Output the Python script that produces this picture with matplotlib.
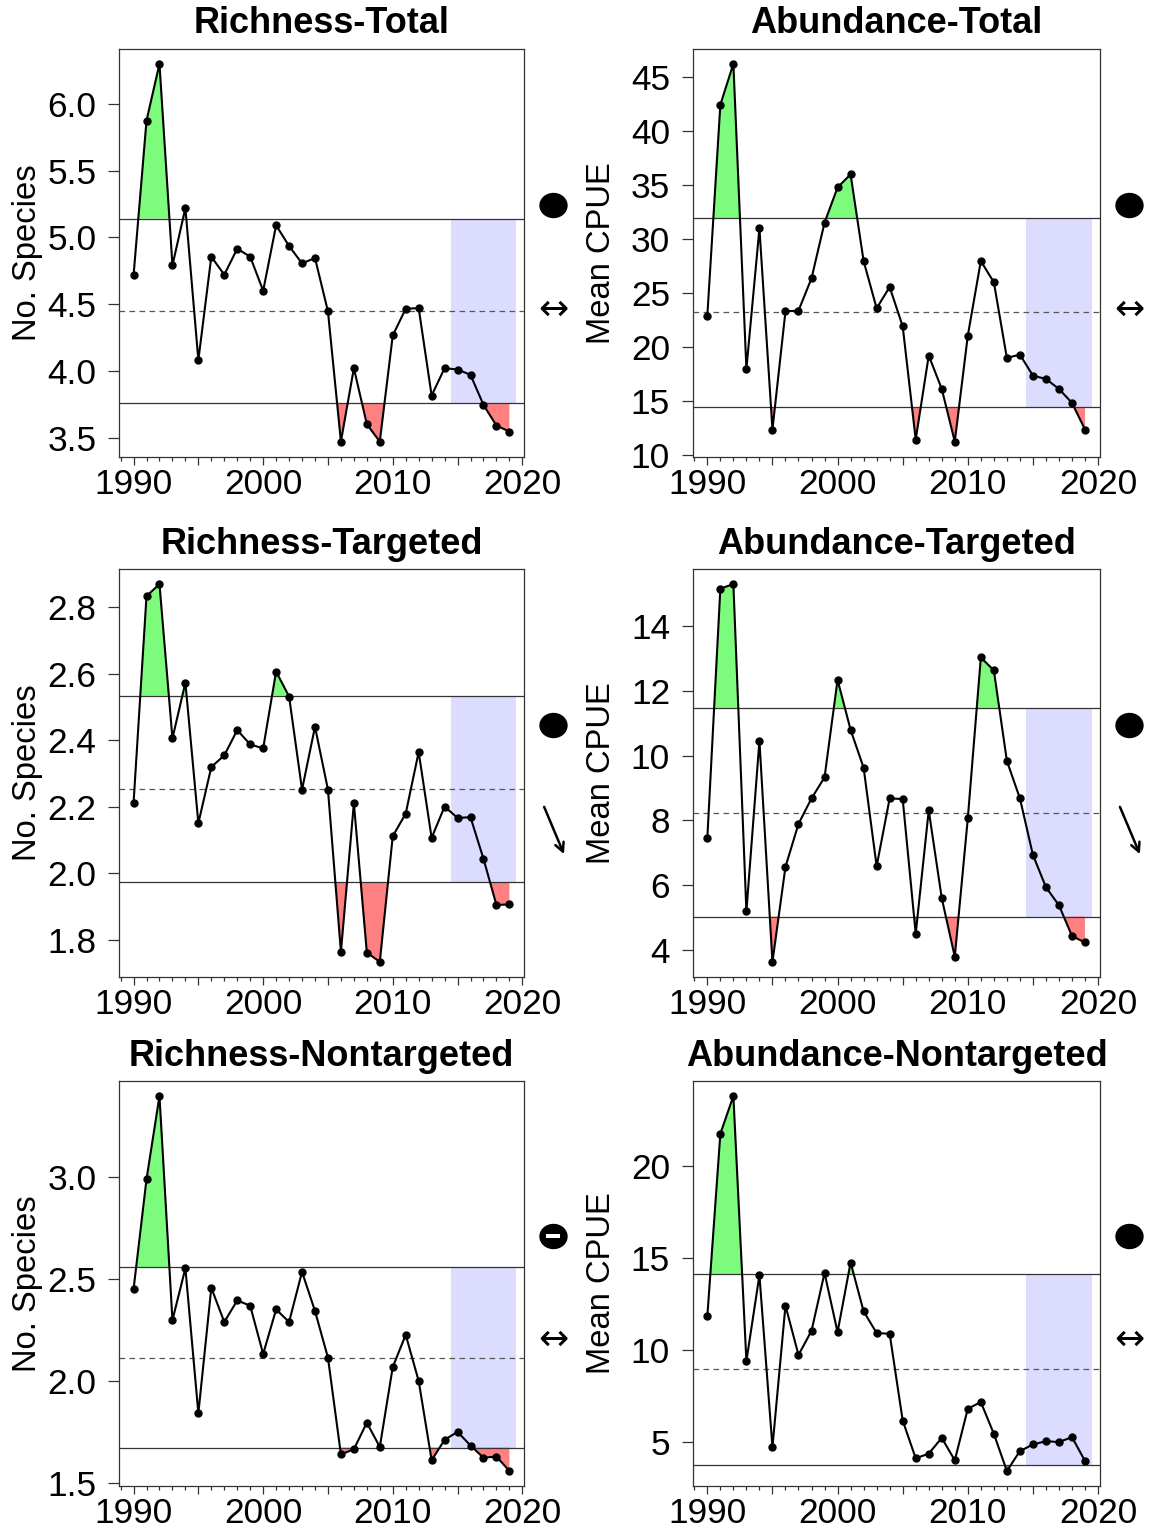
import matplotlib
matplotlib.use("Agg")
import matplotlib.pyplot as plt
from matplotlib.path import Path
from matplotlib.transforms import Affine2D
import numpy as np

plt.rcParams['font.family'] = ['Liberation Sans', 'DejaVu Sans']

years = list(range(1990, 2020))

richness_total = [4.715, 5.875, 6.30, 4.79, 5.22, 4.08, 4.855, 4.72, 4.915, 4.855,
                  4.60, 5.09, 4.935, 4.805, 4.845, 4.445, 3.47, 4.02, 3.60, 3.47,
                  4.265, 4.465, 4.47, 3.815, 4.02, 4.01, 3.97, 3.745, 3.59, 3.545]
abundance_total = [22.87, 42.41, 46.2, 17.93, 30.96, 12.32, 23.27, 23.33, 26.33, 31.48,
                   34.75, 35.96, 27.93, 23.55, 25.52, 21.88, 11.39, 19.17, 16.08, 11.2,
                   21.02, 27.93, 25.96, 18.95, 19.26, 17.31, 17.0, 16.08, 14.78, 12.32]
richness_targeted = [2.212, 2.834, 2.870, 2.406, 2.574, 2.151, 2.320, 2.355, 2.431, 2.388,
                     2.376, 2.607, 2.532, 2.252, 2.441, 2.252, 1.764, 2.211, 1.762, 1.734,
                     2.112, 2.180, 2.365, 2.107, 2.201, 2.167, 2.169, 2.044, 1.905, 1.907]
abundance_targeted = [7.45, 15.17, 15.31, 5.18, 10.46, 3.62, 6.56, 7.89, 8.68, 9.33,
                      12.35, 10.80, 9.63, 6.58, 8.68, 8.66, 4.49, 8.31, 5.59, 3.78,
                      8.06, 13.04, 12.64, 9.84, 8.68, 6.93, 5.93, 5.37, 4.42, 4.22]
richness_nontargeted = [2.450, 2.990, 3.398, 2.298, 2.553, 1.841, 2.457, 2.289, 2.395, 2.369,
                        2.132, 2.351, 2.289, 2.535, 2.343, 2.114, 1.639, 1.665, 1.795, 1.676,
                        2.068, 2.226, 2.000, 1.611, 1.711, 1.750, 1.683, 1.623, 1.629, 1.558]
abundance_nontargeted = [11.85, 21.76, 23.81, 9.42, 14.08, 4.75, 12.43, 9.75, 11.06, 14.2,
                         10.99, 14.77, 12.12, 10.94, 10.90, 6.19, 4.14, 4.39, 5.25, 4.03,
                         6.83, 7.19, 5.47, 3.45, 4.53, 4.89, 5.07, 5.02, 5.29, 3.99]

titles = ["Richness-Total", "Abundance-Total", "Richness-Targeted",
          "Abundance-Targeted", "Richness-Nontargeted", "Abundance-Nontargeted"]
ylabels = ["No. Species", "Mean CPUE", "No. Species", "Mean CPUE", "No. Species", "Mean CPUE"]
upper_limits = [5.14, 31.91, 2.534, 11.48, 2.559, 14.14]
mean_values = [4.45, 23.18, 2.255, 8.225, 2.112, 8.99]
lower_limits = [3.757, 14.38, 1.974, 5.02, 1.673, 3.78]
status_symbols = ["circle", "circle", "circle", "circle", "minus", "circle"]
trend_symbols = ["flat", "flat", "down", "down", "flat", "flat"]
y_ticks = [[3.5, 4.0, 4.5, 5.0, 5.5, 6.0],
           [10, 15, 20, 25, 30, 35, 40, 45],
           [1.8, 2.0, 2.2, 2.4, 2.6, 2.8],
           [4, 6, 8, 10, 12, 14],
           [1.5, 2.0, 2.5, 3.0],
           [5, 10, 15, 20]]
y_fmt = ["{:.1f}", "{:d}", "{:.1f}", "{:d}", "{:.1f}", "{:d}"]
x_labels = ["1990", "", "2000", "", "2010", "", "2020"]
series = [richness_total, abundance_total, richness_targeted,
          abundance_targeted, richness_nontargeted, abundance_nontargeted]

W, H = 1149, 1529
fig = plt.figure(figsize=(W / 100, H / 100), dpi=100)

col_left = [119.3, 693.0]
col_w = [405.0, 407.0]
row_top = [48.7, 569.0, 1081.0]
row_h = [408.0, 408.0, 405.0]

GREEN = "#7DFB7D"
RED = "#FF8080"
BLUE = "#DCDCFF"
LINEC = "#333333"

ell = Path.unit_circle().transformed(Affine2D().scale(1.0, 0.89))

for i in range(6):
    r, c = divmod(i, 2)
    l, t, w, h = col_left[c], row_top[r], col_w[c], row_h[r]
    ax = fig.add_axes([l / W, 1 - (t + h) / H, w / W, h / H])
    y = np.array(series[i], dtype=float)
    x = np.array(years, dtype=float)
    up, mn, lo = upper_limits[i], mean_values[i], lower_limits[i]

    ax.fill_between([2014.5, 2019.5], lo, up, color=BLUE, lw=0, zorder=1)
    ax.fill_between(x, y, up, where=y > up, interpolate=True, color=GREEN, lw=0, zorder=2)
    ax.fill_between(x, y, lo, where=y < lo, interpolate=True, color=RED, lw=0, zorder=2)
    ax.axhline(up, color=LINEC, lw=0.9, zorder=3)
    ax.axhline(lo, color=LINEC, lw=0.9, zorder=3)
    ax.axhline(mn, color="#555555", lw=0.9, ls=(0, (4.5, 3.5)), zorder=3)
    ax.plot(x, y, color="black", lw=1.5, marker="o", ms=5.0, zorder=5)

    rng = y.max() - y.min()
    ax.set_ylim(y.min() - 0.04 * rng, y.max() + 0.04 * rng)
    ax.set_xlim(1988.9, 2020.15)

    ax.set_xticks(range(1990, 2021, 5))
    ax.set_xticklabels(x_labels)
    ax.set_xticks(range(1989, 2021), minor=True)
    ax.set_yticks(y_ticks[i])
    ax.set_yticklabels([y_fmt[i].format(v) for v in y_ticks[i]])
    ax.tick_params(axis="x", which="major", length=6.0, width=0.9, pad=2.0,
                   labelsize=25.4, color="#333333")
    ax.tick_params(axis="x", which="minor", length=3.2, width=0.9, color="#333333")
    ax.tick_params(axis="y", which="major", length=7.9, width=0.9, pad=8.6,
                   labelsize=25.4, color="#333333")
    for s in ax.spines.values():
        s.set_color("#333333")
        s.set_linewidth(0.9)

    ax.text(0.5, 1 + 15.5 / h, titles[i], transform=ax.transAxes, ha="center",
            va="baseline", fontsize=26.0, fontweight="bold")
    ax.text(-92 / w, 0.5, ylabels[i], transform=ax.transAxes, rotation=90,
            ha="center", va="center", fontsize=23.6)

    sx = 1.072
    ax.plot([sx], [0.617], marker=ell, ms=19.4, color="black", transform=ax.transAxes,
            clip_on=False, zorder=6)
    if status_symbols[i] == "minus":
        ax.plot([sx], [0.617], marker="_", ms=9.4, mew=2.9, color="white",
                transform=ax.transAxes, clip_on=False, zorder=7)
    if trend_symbols[i] == "flat":
        ax.text(sx, 0.36, "\u2194", transform=ax.transAxes, ha="center", va="center",
                fontsize=26, family="DejaVu Sans")
    else:
        ax.annotate("", xy=(1.098, 0.301), xytext=(1.049, 0.417),
                    xycoords="axes fraction", textcoords="axes fraction",
                    arrowprops=dict(arrowstyle="->", lw=1.8, color="black",
                                    mutation_scale=16, shrinkA=0, shrinkB=0))

fig.savefig("out.png", dpi=100)
